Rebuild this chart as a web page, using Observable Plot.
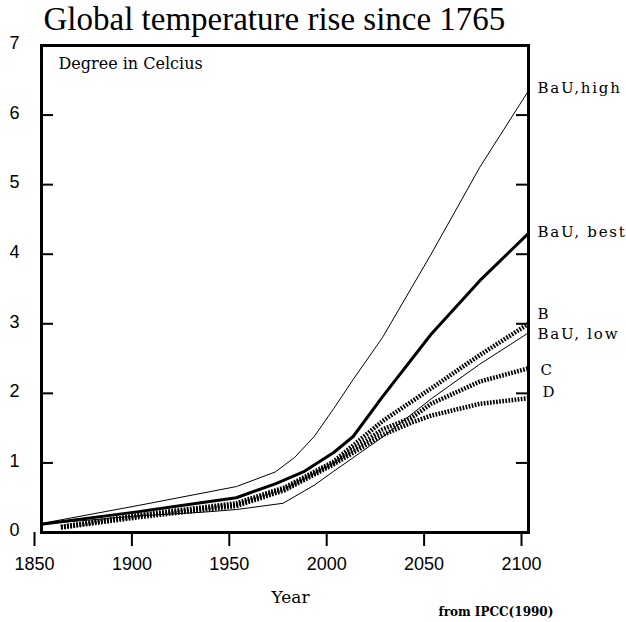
<!DOCTYPE html>
<html><head><meta charset="utf-8">
<script src="https://cdn.jsdelivr.net/npm/d3@7"></script>
<script src="https://cdn.jsdelivr.net/npm/@observablehq/plot@0.6"></script>
<style>body{margin:0;background:#fff}</style>
</head><body><div id="chart"></div>
<script>
const titleText = "Global temperature rise since 1765";
const unitText = "Degree in Celcius";
const xAxisLabel = "Year";
const sourceText = "from IPCC(1990)";

const xTicks = [1850, 1900, 1950, 2000, 2050, 2100];
const yLabels = [0, 1, 2, 3, 4, 5, 6, 7];
const yTickMarks = [1, 2, 3, 4, 5, 6];

const highYears  = [1850, 1900, 1950, 1970, 1980, 1990, 2000, 2010, 2025, 2050, 2075, 2100];
const highValues = [0.13, 0.39, 0.66, 0.87, 1.08, 1.38, 1.78, 2.2, 2.8, 4.0, 5.25, 6.35];

const bestYears  = [1850, 1900, 1930, 1950, 1970, 1985, 2000, 2010, 2025, 2050, 2075, 2100];
const bestValues = [0.12, 0.3, 0.42, 0.5, 0.7, 0.88, 1.15, 1.38, 1.95, 2.85, 3.62, 4.3];

const lowYears  = [1850, 1900, 1932, 1950, 1974, 1990, 2000, 2025, 2050, 2075, 2100];
const lowValues = [0.12, 0.24, 0.29, 0.33, 0.42, 0.68, 0.88, 1.37, 1.92, 2.42, 2.87];

const bYears  = [1860, 1900, 1950, 1975, 2000, 2025, 2050, 2075, 2100];
const bValues = [0.08, 0.25, 0.42, 0.65, 1.02, 1.6, 2.07, 2.55, 3.0];

const cYears  = [1860, 1900, 1950, 1975, 2000, 2025, 2040, 2050, 2075, 2100];
const cValues = [0.08, 0.24, 0.4, 0.63, 1.0, 1.48, 1.65, 1.85, 2.17, 2.36];

const dYears  = [1860, 1900, 1950, 1975, 2000, 2025, 2040, 2050, 2075, 2100];
const dValues = [0.07, 0.22, 0.38, 0.61, 0.98, 1.4, 1.58, 1.68, 1.85, 1.93];

const seriesNames = ["BaU,high", "BaU, best", "BaU, low", "B", "C", "D"];

// build tables from the arrays
const zip = (name, ys, vs) => ys.map((year, i) => ({series: name, year, value: vs[i]}));
const high = zip(seriesNames[0], highYears, highValues);
const best = zip(seriesNames[1], bestYears, bestValues);
const low  = zip(seriesNames[2], lowYears, lowValues);
const sB   = zip(seriesNames[3], bYears, bValues);
const sC   = zip(seriesNames[4], cYears, cValues);
const sD   = zip(seriesNames[5], dYears, dValues);
const allSeries = [high, best, low, sB, sC, sD];
const ends = allSeries.map(s => s[s.length - 1]);

// label nudges (style, in pixels)
const labelDx = {"BaU,high": 9, "BaU, best": 9, "BaU, low": 9, "B": 9, "C": 12, "D": 14};
const labelDy = {"BaU,high": -3, "BaU, best": -1, "BaU, low": 1, "B": -10, "C": 2, "D": -6};

const serif = "Liberation Serif, Times New Roman, serif";
const wideSerif = "'DejaVu Serif', serif";
const sans = "Liberation Sans, Arial, sans-serif";
const hatch = {strokeWidth: 4.5, strokeDasharray: "1.7,1.4", strokeLinecap: "butt", strokeLinejoin: "miter"};

const marks = [
  Plot.frame({stroke: "black", strokeWidth: 3}),
  Plot.tickY(yTickMarks, {y: d => d, insetRight: 475, strokeWidth: 2}),
  Plot.tickY(yTickMarks, {y: d => d, insetLeft: 475, strokeWidth: 2}),
  Plot.axisX({ticks: xTicks, tickFormat: d => String(d), tickSize: 14, tickPadding: 11, fontSize: 18, strokeWidth: 2, dx: -7, label: null, fontFamily: sans}),
  Plot.axisY({ticks: yLabels, tickFormat: d => String(d), tickSize: 0, tickPadding: 27, textAnchor: "middle", fontSize: 18, dy: -2, label: null, fontFamily: sans}),
  Plot.line(high, {x: "year", y: "value", stroke: "black", strokeWidth: 1}),
  Plot.line(low, {x: "year", y: "value", stroke: "black", strokeWidth: 1}),
  Plot.line(sB, {x: "year", y: "value", stroke: "black", ...hatch}),
  Plot.line(sC, {x: "year", y: "value", stroke: "black", ...hatch}),
  Plot.line(sD, {x: "year", y: "value", stroke: "black", ...hatch}),
  Plot.line(best, {x: "year", y: "value", stroke: "black", strokeWidth: 3}),
  Plot.text(ends, {x: "year", y: "value", text: "series", textAnchor: "start",
    fontFamily: wideSerif, fontSize: 15,
    render: (index, scales, values, dims, context, next) => {
      const g = next(index, scales, values, dims, context);
      d3.select(g).selectAll("text").each(function(_, j) {
        const name = ends[index[j]].series;
        d3.select(this).attr("dx", labelDx[name]).attr("dy", labelDy[name]).attr("letter-spacing", 1.8);
      });
      return g;
    }}),
  Plot.text([titleText], {frameAnchor: "top-left", dx: 2, dy: -39, lineAnchor: "top", textAnchor: "start", fontFamily: serif, fontSize: 33}),
  Plot.text([unitText], {frameAnchor: "top-left", dx: 17, dy: 12, lineAnchor: "top", textAnchor: "start", fontFamily: wideSerif, fontSize: 16}),
  Plot.text([xAxisLabel], {frameAnchor: "bottom-left", dx: 249, dy: 58, lineAnchor: "top", textAnchor: "middle", fontFamily: wideSerif, fontSize: 17}),
  Plot.text([sourceText], {frameAnchor: "bottom-left", dx: 397, dy: 75, lineAnchor: "top", textAnchor: "start", fontFamily: wideSerif, fontSize: 12, fontWeight: "bold"})
];

const chart = Plot.plot({
  width: 626, height: 622,
  marginLeft: 41, marginRight: 98, marginTop: 45, marginBottom: 90,
  x: {domain: [1850, 2100]},
  y: {domain: [0, 7]},
  style: {fontFamily: sans, color: "black", background: "white", overflow: "visible"},
  marks
});
document.getElementById("chart").append(chart);
</script>
</body></html>
